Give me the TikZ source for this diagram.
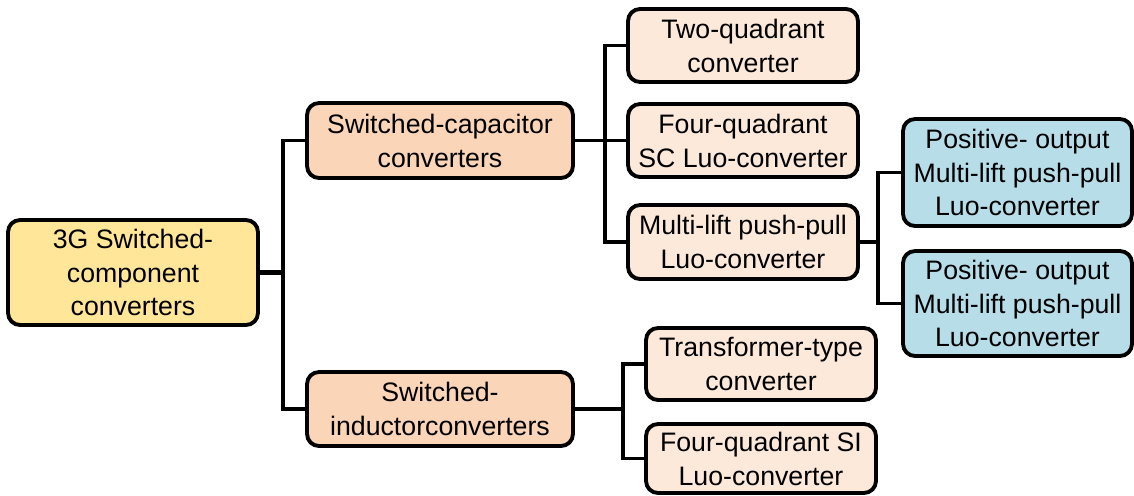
\documentclass[tikz,border=0pt]{standalone}
\usepackage{fontspec}
\setmainfont{Liberation Sans}
\definecolor{rootfill}{HTML}{FFE699}
\definecolor{midfill}{HTML}{FBD5B8}
\definecolor{leaffill}{HTML}{FDE9DA}
\definecolor{bluefill}{HTML}{B7DDE8}
\tikzset{
  box/.style={draw=black, line width=2.2pt, rounded corners=0.24cm, inner sep=0pt, outer sep=0pt,
    align=center, font=\fontsize{15.2}{19.3}\selectfont, text=black},
  conn/.style={draw=black, line width=1.8pt, line cap=rect},
  thick conn/.style={draw=black, line width=2.6pt, line cap=rect}
}
\begin{document}
\begin{tikzpicture}[x=0.02cm, y=-0.02cm]
\useasboundingbox (0,0) rectangle (1134,495);
\node[box, fill=rootfill, minimum width=5cm, minimum height=2.1cm] (root) at (133,272.5) {3G Switched-\\component\\converters};
\node[box, fill=midfill, minimum width=5.32cm, minimum height=1.5cm] (sc) at (440,140.5) {Switched-capacitor\\converters};
\node[box, fill=midfill, minimum width=5.32cm, minimum height=1.48cm] (si) at (440,409) {Switched-\\inductorconverters};
\node[box, fill=leaffill, minimum width=4.6cm, minimum height=1.46cm] (two) at (743,45.5) {Two-quadrant\\converter};
\node[box, fill=leaffill, minimum width=4.6cm, minimum height=1.46cm] (fsc) at (743,140.5) {Four-quadrant\\SC Luo-converter};
\node[box, fill=leaffill, minimum width=4.6cm, minimum height=1.48cm] (multi) at (743,242) {Multi-lift push-pull\\Luo-converter};
\node[box, fill=bluefill, minimum width=4.58cm, minimum height=2.14cm] (p1) at (1017.5,172.5) {Positive- output\\Multi-lift push-pull\\Luo-converter};
\node[box, fill=bluefill, minimum width=4.58cm, minimum height=2.1cm] (p2) at (1017.5,303.5) {Positive- output\\Multi-lift push-pull\\Luo-converter};
\node[box, fill=leaffill, minimum width=4.6cm, minimum height=1.44cm] (trans) at (761,364) {Transformer-type\\converter};
\node[box, fill=leaffill, minimum width=4.6cm, minimum height=1.38cm] (fsi) at (761,458.5) {Four-quadrant SI\\Luo-converter};
\coordinate (j0) at (283,272.5);
\coordinate (j1) at (605,140.5);
\coordinate (j2) at (878,242);
\coordinate (j3) at (623,409);
\begin{scope}[on background layer/.style={}]
\draw[thick conn] (root.east) -- (j0);
\draw[conn] (sc.west) -| (j0) |- (si.west);
\draw[conn] (sc.east) -- (fsc.west);
\draw[conn] (two.west) -| (j1) |- (multi.west);
\draw[thick conn] (multi.east) -- (j2);
\draw[conn] (p1.west) -| (j2) |- (p2.west);
\draw[thick conn] (si.east) -- (j3);
\draw[conn] (trans.west) -| (j3) |- (fsi.west);
\end{scope}
\end{tikzpicture}
\end{document}
